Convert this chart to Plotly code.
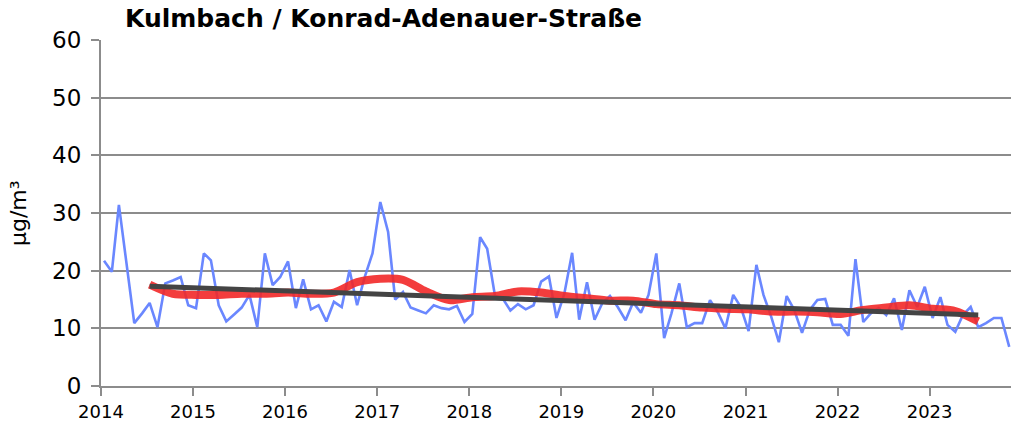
import plotly.graph_objects as go
import pandas as pd

# Monthly NO2 values (µg/m³), Jan 2014 .. Nov 2023
monthly_values = [
    21.7, 19.8, 31.4, 21.0, 10.9, 12.6, 14.4, 10.2, 17.8, 18.3, 18.9, 14.0,  # 2014
    13.5, 23.0, 21.8, 14.0, 11.2, 12.4, 13.6, 15.8, 10.2, 23.0, 17.5, 18.9,  # 2015
    21.6, 13.5, 18.5, 13.3, 14.0, 11.2, 14.6, 13.7, 20.1, 14.0, 19.0, 23.0,  # 2016
    31.9, 26.7, 15.0, 16.3, 13.6, 13.1, 12.6, 14.0, 13.5, 13.3, 13.9, 11.1,  # 2017
    12.5, 25.8, 23.8, 15.6, 15.2, 13.1, 14.2, 13.3, 14.0, 18.1, 19.0, 11.8,  # 2018
    16.0, 23.1, 11.5, 18.0, 11.5, 14.4, 15.6, 13.7, 11.4, 14.5, 12.7, 15.8,  # 2019
    23.0, 8.3, 12.6, 17.8, 10.2, 10.9, 10.9, 14.9, 12.8, 10.0, 15.8, 13.7,   # 2020
    9.5, 21.0, 15.8, 12.0, 7.6, 15.6, 13.2, 9.2, 13.2, 14.9, 15.1, 10.6,     # 2021
    10.6, 8.7, 22.0, 11.1, 12.6, 13.5, 12.3, 15.2, 9.7, 16.6, 13.7, 17.2,    # 2022
    11.8, 15.4, 10.6, 9.4, 12.3, 13.7, 10.2, 10.9, 11.8, 11.8, 6.8,          # 2023
]
monthly_dates = pd.date_range("2014-01-01", periods=len(monthly_values), freq="MS") + pd.Timedelta(days=12)

# Running annual mean (quarterly)
running_values = [
    17.6, 16.0,
    15.8, 15.8, 16.0, 16.0,
    16.2, 16.0, 16.2, 18.0,
    18.6, 18.4, 16.4, 14.9,
    15.4, 15.6, 16.4, 16.2,
    15.6, 15.2, 14.8, 14.8,
    14.2, 14.0, 13.6, 13.4,
    13.3, 12.9, 12.9, 12.8,
    12.5, 13.2, 13.6, 14.0,
    13.4, 13.0, 11.2,
]
running_dates = pd.date_range("2014-07-01", periods=len(running_values), freq="3MS") + pd.Timedelta(days=12)

# Linear trend (grey)
trend_dates = ["2014-07-13", "2023-07-13"]
trend_values = [17.3, 12.3]

years = list(range(2014, 2024))
title_text = "Kulmbach / Konrad-Adenauer-Straße"
y_label = "µg/m³"

fig = go.Figure()
fig.add_trace(go.Scatter(x=monthly_dates, y=monthly_values, mode="lines",
                         line=dict(color="#6a87ff", width=2.6), hoverinfo="skip"))
fig.add_trace(go.Scatter(x=running_dates, y=running_values, mode="lines",
                         line=dict(color="rgba(242,40,40,0.9)", width=8, shape="spline", smoothing=0.8),
                         hoverinfo="skip"))
fig.add_trace(go.Scatter(x=trend_dates, y=trend_values, mode="lines",
                         line=dict(color="#444444", width=5), hoverinfo="skip"))

grid_col = "#8c8c8c"
fig.update_layout(
    width=1011, height=436,
    margin=dict(l=101, r=0, t=40, b=50),
    paper_bgcolor="white", plot_bgcolor="white",
    showlegend=False,
    font=dict(family="DejaVu Sans, sans-serif", color="#000000", size=18),
    xaxis=dict(
        type="date",
        range=["2014-01-01", "2023-11-20"],
        tickmode="array",
        tickvals=[f"{y}-01-01" for y in years],
        ticktext=[str(y) for y in years],
        ticks="outside", ticklen=8, tickwidth=2, tickcolor=grid_col,
        showgrid=False, showline=True, linecolor=grid_col, linewidth=2,
        zeroline=False, tickfont=dict(size=18),
    ),
    yaxis=dict(
        range=[0, 60], dtick=10,
        ticks="outside", ticklen=8, tickwidth=2, tickcolor=grid_col,
        showgrid=True, gridcolor=grid_col, gridwidth=2,
        showline=True, linecolor=grid_col, linewidth=2,
        zeroline=False, tickfont=dict(size=23), ticklabelstandoff=5,
    ),
    annotations=[
        dict(text=f"<b>{title_text}</b>", xref="paper", yref="paper",
             x=(123 - 101) / 910, y=1.0, xanchor="left", yanchor="middle", yshift=22,
             showarrow=False, font=dict(size=25, color="#000000")),
        dict(text=y_label, xref="paper", yref="paper", x=0, y=0.5,
             xanchor="center", yanchor="middle", xshift=-83, textangle=-90,
             showarrow=False, font=dict(size=22, color="#000000")),
    ],
)

fig.write_html("out.html", config={"displayModeBar": False},
               post_script="document.body.style.margin='0';")
